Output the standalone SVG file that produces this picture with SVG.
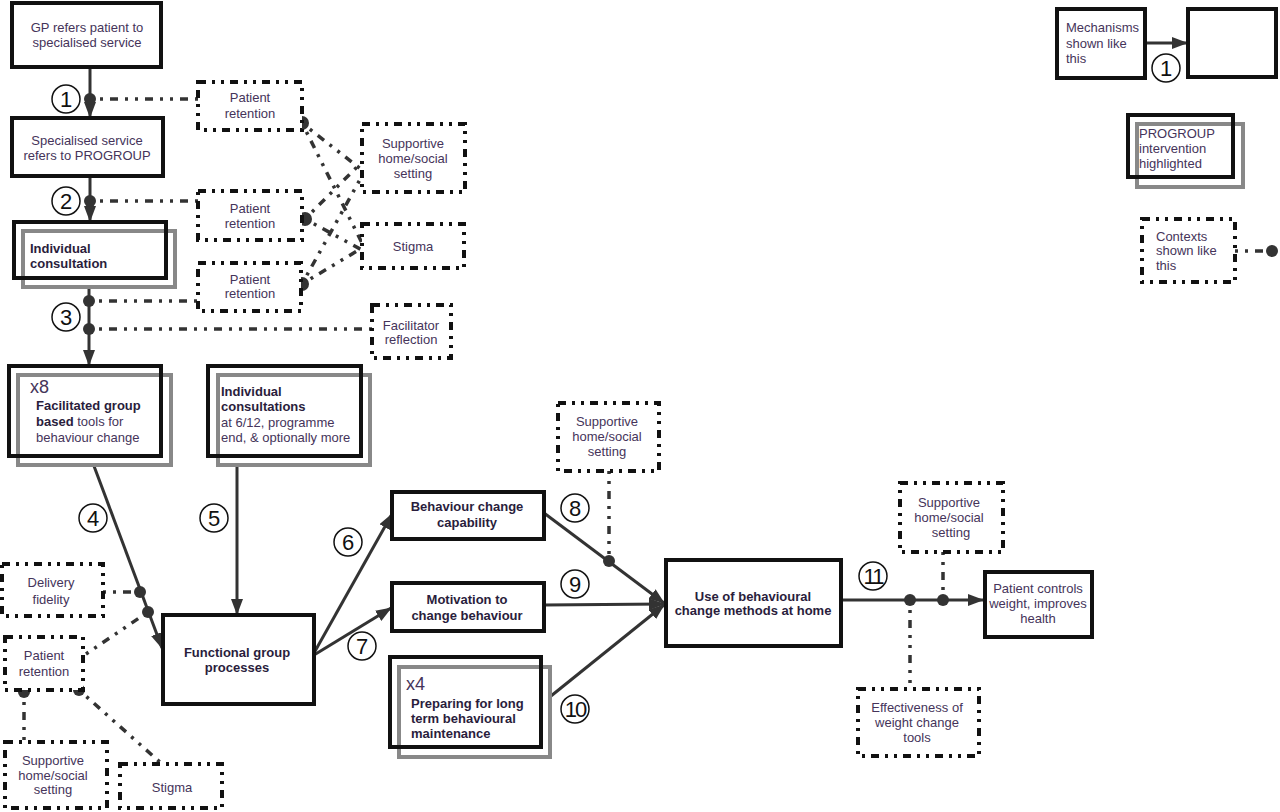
<svg xmlns="http://www.w3.org/2000/svg" width="1280" height="812" viewBox="0 0 1280 812">
<defs>
<marker id="arr" markerWidth="16" markerHeight="12" refX="15" refY="6" orient="auto" markerUnits="userSpaceOnUse"><path d="M0,0 L16,6 L0,12 Z" fill="#333"/></marker>
</defs>
<style>
text{font-family:"Liberation Sans",Arial,sans-serif;font-size:13px;fill:#45345a}
.b{font-weight:bold;fill:#2a1d3c}
.c{text-anchor:middle}
.box{fill:#fff;stroke:#111;stroke-width:4}
.hl{fill:#fff;stroke:#888;stroke-width:4}
.ov{fill:none;stroke:#111;stroke-width:4}
.ctx{fill:#fff;stroke:#111;stroke-width:4;stroke-dasharray:8 6 3 6 3 6}
.ln{stroke:#333;stroke-width:3;fill:none}
.dl{stroke:#333;stroke-width:3.5;fill:none;stroke-dasharray:3 7 3 7 8 7}
.dot{fill:#333}
.num circle{fill:none;stroke:#111;stroke-width:1.5}
.num text{font-size:22px;fill:#111;text-anchor:middle}
.big{font-size:18px;fill:#45345a}
</style>
<rect width="1280" height="812" fill="#fff"/>

<g id="connectors">
<line class="ln" x1="90" y1="67" x2="90" y2="117" marker-end="url(#arr)"/>
<line class="ln" x1="90" y1="176" x2="90" y2="221" marker-end="url(#arr)"/>
<line class="ln" x1="89" y1="278" x2="89" y2="365" marker-end="url(#arr)"/>
<line class="ln" x1="94" y1="466" x2="162" y2="648" marker-end="url(#arr)"/>
<line class="ln" x1="237" y1="457" x2="237" y2="614" marker-end="url(#arr)"/>
<line class="ln" x1="314" y1="653" x2="392" y2="514" marker-end="url(#arr)"/>
<line class="ln" x1="314" y1="655" x2="391" y2="608" marker-end="url(#arr)"/>
<line class="ln" x1="544" y1="513" x2="664" y2="603" marker-end="url(#arr)"/>
<line class="ln" x1="544" y1="605" x2="664" y2="604" marker-end="url(#arr)"/>
<line class="ln" x1="546" y1="700" x2="664" y2="605" marker-end="url(#arr)"/>
<line class="ln" x1="842" y1="600" x2="983" y2="600" marker-end="url(#arr)"/>
<line class="ln" x1="1145" y1="43" x2="1187" y2="43" marker-end="url(#arr)"/>

<line class="dl" x1="90" y1="99" x2="198" y2="99"/>
<line class="dl" x1="90" y1="201" x2="198" y2="201"/>
<line class="dl" x1="89" y1="301" x2="198" y2="301"/>
<line class="dl" x1="89" y1="329" x2="372" y2="329"/>
<line class="dl" x1="302" y1="123" x2="362" y2="170"/>
<line class="dl" x1="302" y1="123" x2="362" y2="243"/>
<line class="dl" x1="305" y1="219" x2="362" y2="162"/>
<line class="dl" x1="305" y1="219" x2="362" y2="250"/>
<line class="dl" x1="302" y1="284" x2="362" y2="248"/>
<line class="dl" x1="302" y1="284" x2="362" y2="176"/>
<line class="dl" x1="103" y1="592" x2="140" y2="592"/>
<line class="dl" x1="86" y1="654" x2="148" y2="612"/>
<line class="dl" x1="24" y1="692" x2="24" y2="742"/>
<line class="dl" x1="79" y1="690" x2="162" y2="764"/>
<line class="dl" x1="609" y1="471" x2="609" y2="561"/>
<line class="dl" x1="943" y1="552" x2="943" y2="600"/>
<line class="dl" x1="910" y1="600" x2="910" y2="689"/>
<line class="dl" x1="1235" y1="251" x2="1272" y2="251"/>

<circle class="dot" cx="90" cy="99" r="6"/>
<circle class="dot" cx="90" cy="201" r="6"/>
<circle class="dot" cx="89" cy="301" r="6"/>
<circle class="dot" cx="89" cy="329" r="6"/>
<circle class="dot" cx="302" cy="123" r="7"/>
<circle class="dot" cx="305" cy="219" r="7"/>
<circle class="dot" cx="302" cy="284" r="7"/>
<circle class="dot" cx="140" cy="592" r="6"/>
<circle class="dot" cx="148" cy="612" r="6"/>
<circle class="dot" cx="24" cy="692" r="6"/>
<circle class="dot" cx="79" cy="690" r="6"/>
<circle class="dot" cx="609" cy="561" r="6"/>
<circle class="dot" cx="910" cy="600" r="6"/>
<circle class="dot" cx="943" cy="600" r="6"/>
<circle class="dot" cx="1272" cy="251" r="6"/>

<g class="num"><circle cx="66" cy="99" r="14"/><text x="66" y="107">1</text></g>
<g class="num"><circle cx="66" cy="201" r="14"/><text x="66" y="209">2</text></g>
<g class="num"><circle cx="66" cy="317" r="14"/><text x="66" y="325">3</text></g>
<g class="num"><circle cx="93" cy="518" r="14"/><text x="93" y="526">4</text></g>
<g class="num"><circle cx="214" cy="518" r="14"/><text x="214" y="526">5</text></g>
<g class="num"><circle cx="348" cy="542" r="14"/><text x="348" y="550">6</text></g>
<g class="num"><circle cx="362" cy="646" r="14"/><text x="362" y="654">7</text></g>
<g class="num"><circle cx="575" cy="508" r="14"/><text x="575" y="516">8</text></g>
<g class="num"><circle cx="575" cy="584" r="14"/><text x="575" y="592">9</text></g>
<g class="num"><circle cx="575" cy="709" r="14"/><text x="575" y="717" letter-spacing="-2">10</text></g>
<g class="num"><circle cx="873" cy="576" r="14"/><text x="873" y="584" letter-spacing="-2">11</text></g>
<g class="num"><circle cx="1166" cy="68" r="14"/><text x="1166" y="76">1</text></g>
</g>

<g id="n-gp"><rect class="box" x="12" y="3" width="149" height="64"/>
<text class="c" x="87" y="32">GP refers patient to</text><text class="c" x="87" y="47">specialised service</text></g>

<g id="n-spec"><rect class="box" x="12" y="118" width="151" height="58"/>
<text class="c" x="87" y="145">Specialised service</text><text class="c" x="87" y="160">refers to PROGROUP</text></g>

<g id="n-indiv"><rect class="hl" x="23" y="231" width="152" height="56"/><rect class="ov" x="14" y="222" width="152" height="56"/>
<text class="b" x="30" y="253">Individual</text><text class="b" x="30" y="268">consultation</text></g>

<g id="n-facil"><rect class="hl" x="18" y="375" width="153" height="90"/><rect class="ov" x="9" y="366" width="152" height="90"/>
<text class="big" x="30" y="393">x8</text>
<text x="36" y="410" class="b">Facilitated group</text>
<text x="36" y="426"><tspan class="b">based</tspan> tools for</text>
<text x="36" y="442">behaviour change</text></g>

<g id="n-indivs"><rect class="hl" x="218" y="375" width="152" height="90"/><rect class="ov" x="208" y="366" width="153" height="90"/>
<text class="b" x="221" y="396">Individual</text><text class="b" x="221" y="411">consultations</text>
<text x="221" y="427">at 6/12, programme</text><text x="221" y="442">end, &amp; optionally more</text></g>

<g id="n-func"><rect class="box" x="163" y="615" width="151" height="89"/>
<text class="b c" x="237" y="657">Functional group</text><text class="b c" x="237" y="672">processes</text></g>

<g id="n-bcc"><rect class="box" x="392" y="492" width="152" height="47"/>
<text class="b c" x="467" y="511">Behaviour change</text><text class="b c" x="467" y="527">capability</text></g>

<g id="n-mot"><rect class="box" x="392" y="583" width="152" height="48"/>
<text class="b c" x="467" y="604">Motivation to</text><text class="b c" x="467" y="620">change behaviour</text></g>

<g id="n-prep"><rect class="hl" x="399" y="667" width="151" height="90"/><rect class="ov" x="390" y="657" width="151" height="90"/>
<text class="big" x="406" y="690">x4</text>
<text class="b" x="411" y="708">Preparing for long</text><text class="b" x="411" y="723">term behavioural</text><text class="b" x="411" y="738">maintenance</text></g>

<g id="n-use"><rect class="box" x="666" y="560" width="175" height="86"/>
<text class="b c" x="753" y="601">Use of behavioural</text><text class="b c" x="753" y="615">change methods at home</text></g>

<g id="n-out"><rect class="box" x="985" y="572" width="107" height="65"/>
<text class="c" x="1038" y="593">Patient controls</text><text class="c" x="1038" y="608">weight, improves</text><text class="c" x="1038" y="623">health</text></g>

<g id="c-pr1"><rect class="ctx" x="198" y="82" width="104" height="48"/>
<text class="c" x="250" y="102">Patient</text><text class="c" x="250" y="118">retention</text></g>
<g id="c-sup1"><rect class="ctx" x="362" y="124" width="103" height="68"/>
<text class="c" x="413" y="148">Supportive</text><text class="c" x="413" y="163">home/social</text><text class="c" x="413" y="178">setting</text></g>
<g id="c-pr2"><rect class="ctx" x="198" y="191" width="104" height="49"/>
<text class="c" x="250" y="213">Patient</text><text class="c" x="250" y="228">retention</text></g>
<g id="c-stig1"><rect class="ctx" x="362" y="224" width="102" height="44"/>
<text class="c" x="413" y="251">Stigma</text></g>
<g id="c-pr3"><rect class="ctx" x="198" y="263" width="103" height="48"/>
<text class="c" x="250" y="284">Patient</text><text class="c" x="250" y="298">retention</text></g>
<g id="c-fr"><rect class="ctx" x="372" y="305" width="79" height="53"/>
<text class="c" x="411" y="330">Facilitator</text><text class="c" x="411" y="344">reflection</text></g>
<g id="c-df"><rect class="ctx" x="2" y="564" width="101" height="52"/>
<text class="c" x="51" y="587">Delivery</text><text class="c" x="51" y="604">fidelity</text></g>
<g id="c-pr4"><rect class="ctx" x="5" y="637" width="78" height="53"/>
<text class="c" x="44" y="660">Patient</text><text class="c" x="44" y="676">retention</text></g>
<g id="c-sup2"><rect class="ctx" x="5" y="742" width="102" height="66"/>
<text class="c" x="53" y="765">Supportive</text><text class="c" x="53" y="780">home/social</text><text class="c" x="53" y="794">setting</text></g>
<g id="c-stig2"><rect class="ctx" x="120" y="764" width="102" height="44"/>
<text class="c" x="172" y="792">Stigma</text></g>
<g id="c-sup3"><rect class="ctx" x="558" y="403" width="101" height="68"/>
<text class="c" x="607" y="426">Supportive</text><text class="c" x="607" y="441">home/social</text><text class="c" x="607" y="456">setting</text></g>
<g id="c-sup4"><rect class="ctx" x="900" y="483" width="103" height="69"/>
<text class="c" x="949" y="507">Supportive</text><text class="c" x="949" y="522">home/social</text><text class="c" x="951" y="537">setting</text></g>
<g id="c-eff"><rect class="ctx" x="858" y="689" width="121" height="67"/>
<text class="c" x="917" y="712">Effectiveness of</text><text class="c" x="917" y="727">weight change</text><text class="c" x="917" y="742">tools</text></g>

<g id="legend-mech"><rect class="box" x="1057" y="9" width="88" height="69"/>
<text x="1066" y="32">Mechanisms</text><text x="1066" y="48">shown like</text><text x="1066" y="63">this</text></g>
<g id="legend-empty"><rect class="box" x="1188" y="9" width="88" height="68"/></g>
<g id="legend-prog"><rect class="hl" x="1137" y="124" width="106" height="63"/><rect class="ov" x="1128" y="115" width="105" height="62"/>
<text x="1139" y="138">PROGROUP</text><text x="1139" y="153">intervention</text><text x="1139" y="168">highlighted</text></g>
<g id="legend-ctx"><rect class="ctx" x="1142" y="219" width="93" height="63"/>
<text x="1156" y="241">Contexts</text><text x="1156" y="255">shown like</text><text x="1156" y="270">this</text></g>
</svg>
